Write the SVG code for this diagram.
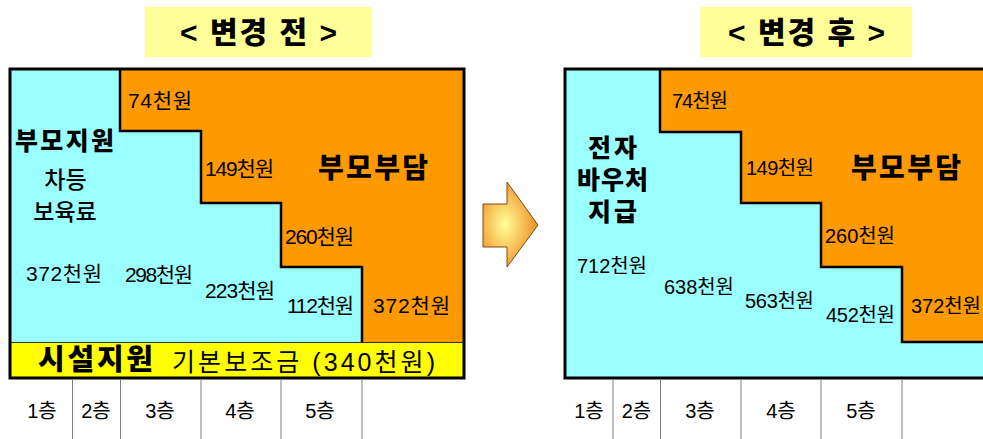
<svg xmlns="http://www.w3.org/2000/svg" width="983" height="439" viewBox="0 0 983 439">
<defs>
<radialGradient id="arrowGrad" cx="0.4" cy="0.5" r="0.6">
<stop offset="0" stop-color="#FFFF99"/>
<stop offset="0.6" stop-color="#F7B850"/>
<stop offset="1" stop-color="#E8902A"/>
</radialGradient>
<style>
text { font-family: "Liberation Sans", "Noto Sans CJK KR", sans-serif; fill: #000; dominant-baseline: central; }
.title { font-size: 30px; font-weight: 900; }
.titlebox { fill: #FFFF99; }
.cyan { fill: #99FFFF; }
.orange { fill: #FF9900; }
.yellow { fill: #FFFF00; }
.stair { fill: none; stroke: #000; stroke-width: 2.5; stroke-linejoin: miter; }
.frame { fill: none; stroke: #000; stroke-width: 3; }
.div { stroke: #808080; stroke-width: 1; }
.num { font-size: 21px; }
.numr { font-size: 20px; }
.big { font-weight: 900; }
.mid { font-size: 23px; font-weight: 500; text-anchor: middle; }
.floor { font-size: 20px; text-anchor: middle; }
</style>
</defs>
<rect width="983" height="439" fill="#FFFFFF"/>

<g id="title-before">
<rect class="titlebox" x="145" y="7" width="227" height="50"/>
<text class="title" x="180" y="32" textLength="157" lengthAdjust="spacing">&lt; 변경 전 &gt;</text>
</g>

<g id="title-after">
<rect class="titlebox" x="700" y="7" width="212" height="50"/>
<text class="title" x="728" y="32" textLength="157" lengthAdjust="spacing">&lt; 변경 후 &gt;</text>
</g>

<g id="panel-before">
<rect class="cyan" x="10" y="69" width="454" height="273"/>
<path class="orange" d="M120,69 H464 V342 H362 V267 H281 V203 H201 V131 H120 Z"/>
<rect class="yellow" x="10" y="342" width="454" height="36"/>
<line x1="10" y1="342.5" x2="464" y2="342.5" stroke="#333" stroke-width="1"/>
<polyline class="stair" points="120,69 120,131 201,131 201,203 281,203 281,267 362,267 362,342"/>
<rect class="frame" x="10" y="69" width="454" height="309"/>
<text class="big" x="15" y="141" font-size="25" textLength="99" lengthAdjust="spacing">부모지원</text>
<text class="mid" x="65.5" y="180">차등</text>
<text class="mid" x="65" y="212">보육료</text>
<text class="big" x="318" y="168" font-size="28" textLength="110" lengthAdjust="spacing">부모부담</text>
<text class="num" x="128" y="100" textLength="64" lengthAdjust="spacing">74천원</text>
<text class="num" x="205" y="168" textLength="69" lengthAdjust="spacing">149천원</text>
<text class="num" x="285" y="236" textLength="69" lengthAdjust="spacing">260천원</text>
<text class="num" x="26" y="273" textLength="76" lengthAdjust="spacing">372천원</text>
<text class="num" x="125" y="274" textLength="68" lengthAdjust="spacing">298천원</text>
<text class="num" x="205" y="290" textLength="70" lengthAdjust="spacing">223천원</text>
<text class="num" x="287" y="305" textLength="67" lengthAdjust="spacing">112천원</text>
<text class="num" x="373" y="305" textLength="77" lengthAdjust="spacing">372천원</text>
<text x="38" y="360" font-size="29" font-weight="900" textLength="115" lengthAdjust="spacing">시설지원</text>
<text x="172" y="362" font-size="25" textLength="263" lengthAdjust="spacing">기본보조금 (340천원)</text>
</g>

<g id="floors-before">
<line class="div" x1="72.5" y1="380" x2="72.5" y2="439"/>
<line class="div" x1="120.5" y1="380" x2="120.5" y2="439"/>
<line class="div" x1="201" y1="380" x2="201" y2="439"/>
<line class="div" x1="281" y1="380" x2="281" y2="439"/>
<line class="div" x1="362" y1="380" x2="362" y2="439"/>
<text class="floor" x="42" y="411">1층</text>
<text class="floor" x="96" y="411">2층</text>
<text class="floor" x="160" y="411">3층</text>
<text class="floor" x="240" y="411">4층</text>
<text class="floor" x="320" y="411">5층</text>
</g>

<g id="connectors">
<path d="M483,204 H507 V182 L538,225 L507,267 V247 H483 Z" fill="url(#arrowGrad)" stroke="#7A4A10" stroke-width="1"/>
</g>

<g id="panel-after">
<rect class="cyan" x="565" y="69" width="425" height="309"/>
<path class="orange" d="M660,69 H990 V342 H902 V267 H821 V203 H741 V132 H660 Z"/>
<polyline class="stair" points="660,69 660,132 741,132 741,203 821,203 821,267 902,267 902,342 990,342"/>
<rect class="frame" x="565" y="69" width="425" height="309"/>
<text class="big" x="588" y="148" font-size="25" textLength="49" lengthAdjust="spacing">전자</text>
<text class="big" x="577" y="180" font-size="25" textLength="71" lengthAdjust="spacing">바우처</text>
<text class="big" x="588" y="212" font-size="25" textLength="49" lengthAdjust="spacing">지급</text>
<text class="big" x="851" y="168" font-size="28" textLength="110" lengthAdjust="spacing">부모부담</text>
<text class="numr" x="672" y="101" textLength="56" lengthAdjust="spacing">74천원</text>
<text class="numr" x="746" y="168" textLength="68" lengthAdjust="spacing">149천원</text>
<text class="numr" x="825" y="236" textLength="70" lengthAdjust="spacing">260천원</text>
<text class="numr" x="577" y="266" textLength="70" lengthAdjust="spacing">712천원</text>
<text class="numr" x="664" y="287" textLength="70" lengthAdjust="spacing">638천원</text>
<text class="numr" x="745" y="301" textLength="69" lengthAdjust="spacing">563천원</text>
<text class="numr" x="826" y="315" textLength="69" lengthAdjust="spacing">452천원</text>
<text class="numr" x="911" y="306" textLength="70" lengthAdjust="spacing">372천원</text>
</g>

<g id="floors-after">
<line class="div" x1="613" y1="380" x2="613" y2="439"/>
<line class="div" x1="660.5" y1="380" x2="660.5" y2="439"/>
<line class="div" x1="741" y1="380" x2="741" y2="439"/>
<line class="div" x1="821" y1="380" x2="821" y2="439"/>
<line class="div" x1="902" y1="380" x2="902" y2="439"/>
<text class="floor" x="589" y="411">1층</text>
<text class="floor" x="636.5" y="411">2층</text>
<text class="floor" x="700" y="411">3층</text>
<text class="floor" x="781" y="411">4층</text>
<text class="floor" x="861" y="411">5층</text>
</g>
</svg>
